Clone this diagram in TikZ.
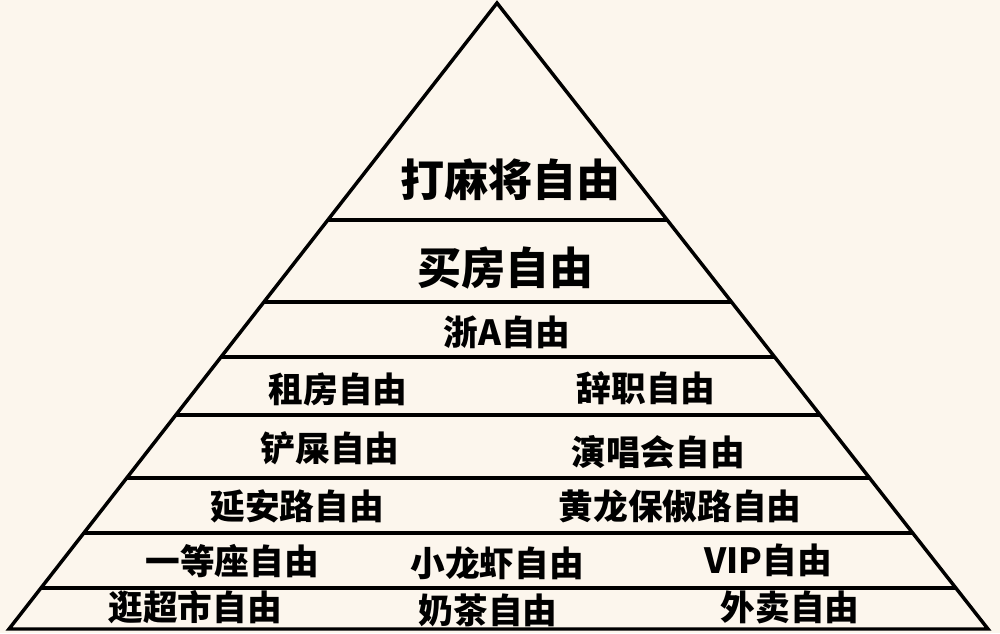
\documentclass[tikz,border=0pt]{standalone}
\usepackage{fontspec}
\setmainfont{Noto Sans CJK SC}
\begin{document}
\begin{tikzpicture}[x=0.75pt,y=-0.75pt,
  ln/.style={line width=2.6pt,black},
  big/.style={font=\fontsize{33}{36}\selectfont\bfseries},
  mid/.style={font=\fontsize{26}{29}\selectfont\bfseries}]
\fill[color={rgb,255:red,252;green,246;blue,237}] (0,0) rectangle (1000,633);
\useasboundingbox (0,0) rectangle (1000,633);
\coordinate (T) at (497,3);
\coordinate (BL) at (9,629);
\coordinate (BR) at (988,629);
\draw[ln,line join=miter] (BL) -- (T) -- (BR) -- cycle;
\foreach \y/\l/\r in {220/328/667,302/264/732,357/221/775,415/176/820,478/126/870,533/84/913,588/41/956}
  \draw[ln] (\l,\y) -- (\r,\y);
\node[big] (a) at (510,180) {打麻将自由};
\node[big] (b) at (505,268) {买房自由};
\node[mid] (c) at (507,332) {浙A自由};
\node[mid] (d1) at (338,390) {租房自由};
\node[mid] (d2) at (646,388) {辞职自由};
\node[mid] (e1) at (330,448) {铲屎自由};
\node[mid] (e2) at (658,452) {演唱会自由};
\node[mid] (f1) at (297,506) {延安路自由};
\node[mid] (f2) at (680,506) {黄龙保俶路自由};
\node[mid] (g1) at (232,561) {一等座自由};
\node[mid] (g2) at (497,563) {小龙虾自由};
\node[mid] (g3) at (768,560) {VIP自由};
\node[mid] (h1) at (195,607) {逛超市自由};
\node[mid] (h2) at (488,610) {奶茶自由};
\node[mid] (h3) at (790,607) {外卖自由};
\end{tikzpicture}
\end{document}
